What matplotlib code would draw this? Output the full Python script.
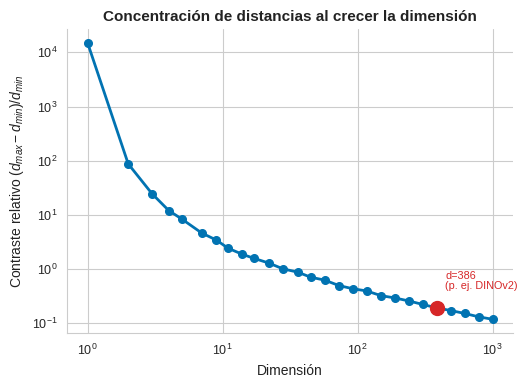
import numpy as np
import matplotlib
matplotlib.use("Agg")
import matplotlib.pyplot as plt
import seaborn as sns

# dimensiones (logspace 1..1000, redondeadas) y contraste relativo medido
dims = [1, 2, 3, 4, 5, 7, 9, 11, 14, 17, 22, 28, 36, 45, 57, 73, 92,
        117, 149, 189, 240, 304, 386, 489, 621, 788, 1000]
contraste = [15000, 87, 24.5, 11.9, 8.3, 4.6, 3.4, 2.4, 1.86, 1.57, 1.28,
             1.0, 0.87, 0.70, 0.62, 0.49, 0.43, 0.39, 0.32, 0.29, 0.255,
             0.22, 0.19, 0.17, 0.15, 0.13, 0.117]
d_destacada = 386
etiqueta = "d=386\n(p. ej. DINOv2)"

sns.set_style("whitegrid")
plt.rcParams['font.family'] = ['Liberation Sans', 'DejaVu Sans']
plt.rcParams['mathtext.fontset'] = 'custom'
plt.rcParams['mathtext.rm'] = 'Liberation Sans'
plt.rcParams['mathtext.it'] = 'Liberation Sans:italic'

fig, ax = plt.subplots(figsize=(5.18, 3.82), dpi=100)
fig.subplots_adjust(left=0.13, right=0.99, top=0.924, bottom=0.128)

ax.plot(dims, contraste, '-o', color='#0173B2', lw=2, ms=5.5, zorder=3)

i = dims.index(d_destacada)
ax.plot(dims[i], contraste[i], 'o', color='#D62728', ms=10, zorder=4)
ax.annotate(etiqueta, (dims[i], contraste[i]), xytext=(6, 12),
            textcoords='offset points', color='#D62728', fontsize=7.8,
            va='bottom', ha='left', linespacing=1.0)

ax.set_xscale('log')
ax.set_yscale('log')
ax.minorticks_off()
ax.tick_params(labelsize=9, colors='#262626')

ax.set_title("Concentración de distancias al crecer la dimensión",
             fontsize=11, fontweight='bold', color='#222222')
ax.set_xlabel("Dimensión", fontsize=10, color='#222222')
ax.set_ylabel(r"Contraste relativo $(d_{max} - d_{min})/d_{min}$",
              fontsize=10, color='#222222')

sns.despine(ax=ax)
for s in ('left', 'bottom'):
    ax.spines[s].set_color('#cccccc')

fig.savefig("out.png", dpi=100)
